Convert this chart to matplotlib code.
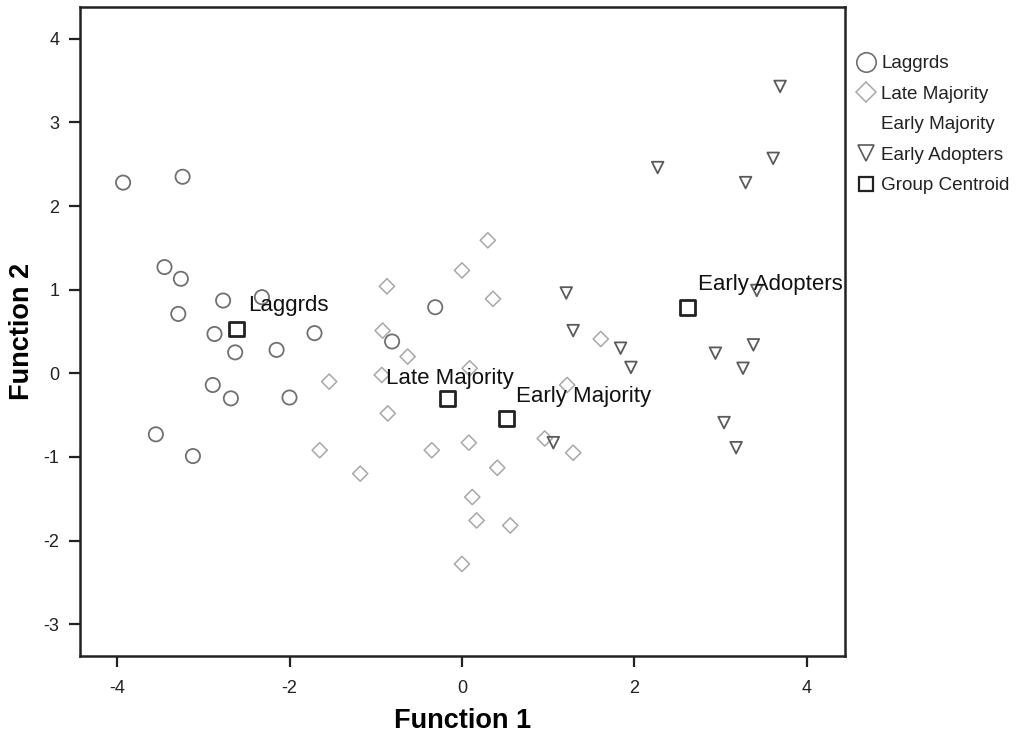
import matplotlib
matplotlib.use("Agg")
import matplotlib.pyplot as plt
from matplotlib.lines import Line2D

plt.rcParams['font.family'] = ['Liberation Sans', 'DejaVu Sans']

# ---- data ----
laggards_x = [-3.93, -3.24, -3.45, -3.26, -3.29, -2.77, -2.32, -2.87, -2.63, -2.15,
              -1.71, -2.89, -2.68, -2.00, -3.55, -3.12, -0.31, -0.81]
laggards_y = [2.28, 2.35, 1.27, 1.13, 0.71, 0.87, 0.91, 0.47, 0.25, 0.28,
              0.48, -0.14, -0.30, -0.29, -0.73, -0.99, 0.79, 0.38]

late_x = [0.30, 0.00, -0.87, 0.36, -0.92, -0.63, -0.93, 0.09, -1.54, -0.86, -1.65,
          -1.18, -0.35, 0.08, 0.41, 0.12, 0.17, 0.56, 0.00, 0.96, 1.29, 1.61, 1.22]
late_y = [1.59, 1.23, 1.04, 0.89, 0.51, 0.20, -0.02, 0.06, -0.10, -0.48, -0.92,
          -1.20, -0.92, -0.83, -1.13, -1.48, -1.76, -1.82, -2.28, -0.78, -0.95, 0.41, -0.14]

early_maj_x = []
early_maj_y = []

adopt_x = [3.69, 3.61, 3.29, 2.27, 3.42, 1.84, 1.96, 2.94, 3.38, 3.26, 3.04, 3.18, 1.21, 1.29, 1.06]
adopt_y = [3.43, 2.57, 2.28, 2.46, 0.99, 0.30, 0.07, 0.24, 0.34, 0.06, -0.59, -0.89, 0.96, 0.51, -0.83]

centroid_x = [-2.61, -0.17, 0.52, 2.62]
centroid_y = [0.53, -0.30, -0.54, 0.79]
centroid_labels = ['Laggrds', 'Late Majority', 'Early Majority', 'Early Adopters']

legend_labels = ['Laggrds', 'Late Majority', 'Early Majority', 'Early Adopters', 'Group Centroid']
x_ticks = [-4, -2, 0, 2, 4]
y_ticks = [-3, -2, -1, 0, 1, 2, 3, 4]

# ---- figure ----
fig = plt.figure(figsize=(10.19, 7.37), dpi=100)
ax = fig.add_axes([0.0785, 0.110, 0.7505, 0.8805])

c_circ = '#707070'
c_diam = '#a8a8a8'
c_tri = '#5a5a5a'
c_sq = '#222222'

ax.scatter(laggards_x, laggards_y, marker='o', s=105, facecolors='none',
           edgecolors=c_circ, linewidths=1.3, zorder=3)
ax.scatter(late_x, late_y, marker='D', s=60, facecolors='none',
           edgecolors=c_diam, linewidths=1.1, zorder=3)
ax.scatter(early_maj_x, early_maj_y, marker='', s=60, zorder=3)
ax.scatter(adopt_x, adopt_y, marker='v', s=70, facecolors='none',
           edgecolors=c_tri, linewidths=1.3, zorder=3)
ax.scatter(centroid_x, centroid_y, marker='s', s=115, facecolors='none',
           edgecolors=c_sq, linewidths=2.0, zorder=4)

label_offsets = [(8, 17), (-44, 14), (7, 16), (7, 16)]
for x, y, lab, off in zip(centroid_x, centroid_y, centroid_labels, label_offsets):
    ax.annotate(lab, xy=(x, y), xytext=off, textcoords='offset points',
                fontsize=16, color='#111111', ha='left', va='center', zorder=5)

ax.set_xlim(-4.43, 4.44)
ax.set_ylim(-3.38, 4.38)
ax.set_xticks(x_ticks)
ax.set_xticklabels([str(t) for t in x_ticks])
ax.set_yticks(y_ticks)
ax.set_yticklabels([str(t) for t in y_ticks])
ax.tick_params(direction='out', length=8, width=1.6, labelsize=13,
               colors='#222222')
ax.tick_params(axis='x', pad=9)
ax.tick_params(axis='y', pad=7)
for sp in ax.spines.values():
    sp.set_linewidth(1.8)
    sp.set_color('#222222')

ax.set_xlabel('Function 1', fontsize=19.5, fontweight='bold', labelpad=8)
ax.set_ylabel('Function 2', fontsize=19.5, fontweight='bold', labelpad=6)

handles = [
    Line2D([], [], marker='o', ls='none', markersize=14, markerfacecolor='none',
           markeredgecolor=c_circ, markeredgewidth=1.2),
    Line2D([], [], marker='D', ls='none', markersize=10.5, markerfacecolor='none',
           markeredgecolor=c_diam, markeredgewidth=1.1),
    Line2D([], [], marker='', ls='none'),
    Line2D([], [], marker='v', ls='none', markersize=12, markerfacecolor='none',
           markeredgecolor=c_tri, markeredgewidth=1.2),
    Line2D([], [], marker='s', ls='none', markersize=10, markerfacecolor='none',
           markeredgecolor=c_sq, markeredgewidth=1.6),
]
leg = fig.legend(handles, legend_labels, loc='upper left',
                 bbox_to_anchor=(0.831, 0.938), frameon=False, fontsize=13.6,
                 handlelength=1.0, handletextpad=0.32, labelspacing=0.70,
                 borderpad=0.0)
for t in leg.get_texts():
    t.set_color('#222222')

fig.savefig('out.png', dpi=100)
